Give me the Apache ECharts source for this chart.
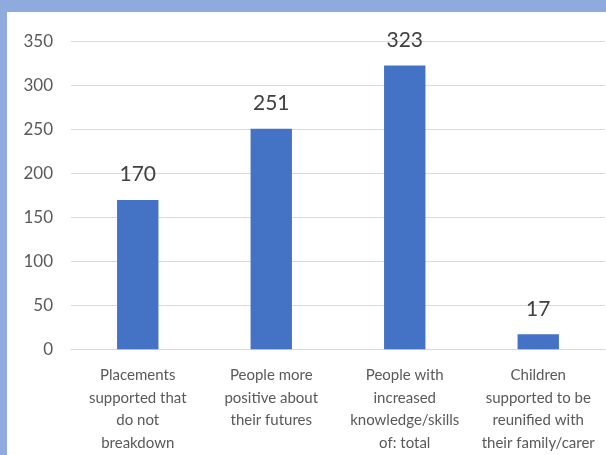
<!DOCTYPE html>
<html>
<head>
<meta charset="utf-8">
<script src="https://cdn.jsdelivr.net/npm/echarts@6/dist/echarts.min.js"></script>
<style>
html,body{margin:0;padding:0;}
#outer{position:relative;width:606px;height:455px;background:#8FAADC;overflow:hidden;}
#chart{position:absolute;left:7px;top:12px;width:599px;height:443px;background:#ffffff;}
</style>
</head>
<body>
<div id="outer"><div id="chart"></div></div>
<script>
const categories = [
  "Placements supported that do not breakdown",
  "People more positive about their futures",
  "People with increased knowledge/skills of: total",
  "Children supported to be reunified with their family/carer"
];
const categoryLines = [
  ["Placements", "supported that", "do not", "breakdown"],
  ["People more", "positive about", "their futures"],
  ["People with", "increased", "knowledge/skills", "of: total"],
  ["Children", "supported to be", "reunified with", "their family/carer"]
];
const values = [170, 251, 323, 17];
const yTicks = [0, 50, 100, 150, 200, 250, 300, 350];

const chart = echarts.init(document.getElementById('chart'));
chart.setOption({
  animation: false,
  textStyle: { fontFamily: 'Lato' },
  grid: { left: 64, right: 1, top: 29.7, bottom: 105.7, containLabel: false },
  xAxis: {
    type: 'category',
    data: categories,
    axisLine: { show: true, lineStyle: { color: '#D9D9D9', width: 1 } },
    axisTick: { show: false },
    axisLabel: {
      interval: 0,
      margin: 15,
      color: '#595959',
      fontFamily: 'Lato',
      fontSize: 15,
      lineHeight: 22.5,
      formatter: function (v) {
        const i = categories.indexOf(v);
        return categoryLines[i].join('\n');
      }
    }
  },
  yAxis: {
    type: 'value',
    min: yTicks[0],
    max: yTicks[yTicks.length - 1],
    interval: 50,
    axisLine: { show: false },
    axisTick: { show: false },
    splitLine: { lineStyle: { color: '#D9D9D9', width: 1 } },
    axisLabel: { color: '#595959', fontFamily: 'Lato', fontSize: 17, margin: 18 }
  },
  series: [{
    type: 'bar',
    data: values,
    barWidth: '31%',
    itemStyle: { color: '#4472C4' },
    label: {
      show: true,
      position: 'top',
      distance: 15,
      color: '#404040',
      fontFamily: 'Lato',
      fontSize: 21
    }
  }]
});
</script>
</body>
</html>
